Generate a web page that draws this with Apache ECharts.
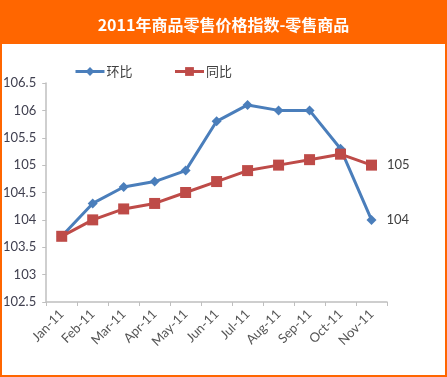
<!DOCTYPE html>
<html>
<head>
    <meta charset="UTF-8">
    <title>2011年商品零售价格指数</title>
    <script src="https://cdn.jsdelivr.net/npm/echarts/dist/echarts.min.js"></script>
    <style>
        html, body { margin: 0; padding: 0; background: #fff; }
        #main { width: 447px; height: 377px; }
    </style>
</head>
<body>
    <div id="main"></div>
    <script type="text/javascript">
        var months = ['Jan-11', 'Feb-11', 'Mar-11', 'Apr-11', 'May-11', 'Jun-11', 'Jul-11', 'Aug-11', 'Sep-11', 'Oct-11', 'Nov-11'];
        var huanbi = [103.7, 104.3, 104.6, 104.7, 104.9, 105.8, 106.1, 106.0, 106.0, 105.3, 104.0];
        var tongbi = [103.7, 104.0, 104.2, 104.3, 104.5, 104.7, 104.9, 105.0, 105.1, 105.2, 105.0];
        var yTicks = [102.5, 103, 103.5, 104, 104.5, 105, 105.5, 106, 106.5];

        var chart = echarts.init(document.getElementById('main'));
        var axisFont = 'Lato, "Noto Sans", sans-serif';

        // only the last point carries a label
        function lastLabel(arr) {
            return arr.map(function (v, i) {
                if (i !== arr.length - 1) return v;
                return {
                    value: v,
                    label: {
                        show: true, position: 'right', distance: 10,
                        color: '#404040', fontSize: 13, fontFamily: axisFont,
                        formatter: function (p) { return Math.round(p.value); }
                    }
                };
            });
        }

        var option = {
            animation: false,
            title: {
                text: '2011年商品零售价格指数-零售商品',
                left: 'center',
                top: 12,
                textStyle: {
                    color: '#fff', fontSize: 16, fontWeight: 'bold',
                    fontFamily: '"Noto Sans CJK SC", sans-serif'
                }
            },
            graphic: [
                { type: 'rect', z: -1, shape: { x: 0, y: 0, width: 447, height: 44 }, style: { fill: '#FF6600' } },
                { type: 'rect', z: -1, shape: { x: 1, y: 1, width: 445, height: 375 }, style: { fill: 'none', stroke: '#FF6600', lineWidth: 2 } }
            ],
            legend: {
                left: 69, top: 60,
                itemWidth: 29, itemHeight: 11, itemGap: 41,
                lineStyle: { width: 3 },
                textStyle: { color: '#404040', fontSize: 13, fontFamily: '"Noto Sans CJK SC", sans-serif', padding: [0, 0, 0, -3] },
                data: ['环比', '同比']
            },
            grid: { left: 45, right: 60, top: 83, bottom: 75 },
            xAxis: {
                type: 'category',
                data: months,
                axisLine: { lineStyle: { color: '#bfbfbf', width: 1.5 } },
                axisTick: { show: true, length: 4, lineStyle: { color: '#bfbfbf' } },
                axisLabel: { rotate: 45, color: '#555', fontSize: 13, fontFamily: axisFont, margin: 10 }
            },
            yAxis: {
                type: 'value',
                min: yTicks[0], max: yTicks[yTicks.length - 1], interval: 0.5,
                splitLine: { show: false },
                axisLine: { show: true, lineStyle: { color: '#bfbfbf', width: 1.5 } },
                axisTick: { show: true, length: 4, lineStyle: { color: '#bfbfbf' } },
                axisLabel: { color: '#404050', fontSize: 13, fontFamily: axisFont, margin: 10 }
            },
            series: [
                {
                    name: '环比', type: 'line',
                    data: lastLabel(huanbi),
                    symbol: 'diamond', symbolSize: 10,
                    lineStyle: { color: '#4A7EBB', width: 3 },
                    itemStyle: { color: '#4A7EBB' }
                },
                {
                    name: '同比', type: 'line',
                    data: lastLabel(tongbi),
                    symbol: 'rect', symbolSize: 11,
                    lineStyle: { color: '#BE4B48', width: 3 },
                    itemStyle: { color: '#BE4B48' }
                }
            ]
        };
        chart.setOption(option);
    </script>
</body>
</html>
